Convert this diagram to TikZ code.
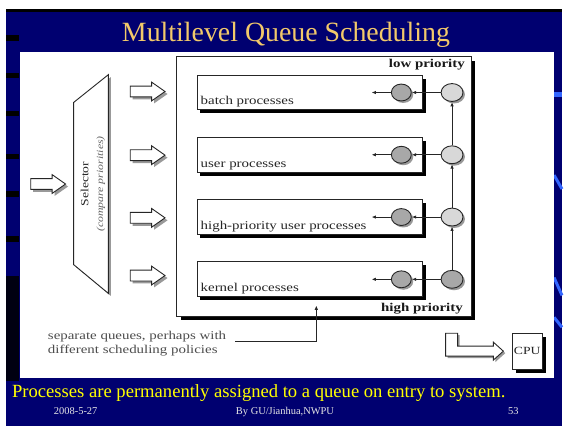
\documentclass[tikz,border=0pt]{standalone}
\usepackage{fontspec}
\setmainfont{Liberation Serif}
\newfontfamily\diagfont[FakeStretch=1.25]{Liberation Serif}
\usepackage{tikz}
\usetikzlibrary{arrows.meta,positioning,shapes.geometric,shapes.arrows}
\definecolor{slidenavy}{HTML}{000070}
\definecolor{slidestripe}{HTML}{3366FF}
\definecolor{titlegold}{HTML}{F2C96A}
\definecolor{footyellow}{HTML}{FFFF00}
\definecolor{inkgray}{HTML}{262626}
\definecolor{dotdark}{HTML}{A8A8A8}
\definecolor{dotlight}{HTML}{D8D8D8}

\begin{document}
\begin{tikzpicture}[
    x=1pt, y=-1pt,
    >={Latex[length=4.5pt,width=3.5pt]},
    every node/.style={font=\diagfont\fontsize{12}{14.3}\selectfont, text=inkgray, inner sep=0pt},
    flow/.style={draw=inkgray, line width=0.9pt},
    hardshadow/.style={preaction={fill=black, transform canvas={xshift=#1, yshift=-#1}}},
    softshadow/.style={preaction={fill=black!40, transform canvas={xshift=#1, yshift=-#1}}},
    pool/.style={
        rectangle,
        draw=inkgray,
        line width=0.9pt,
        fill=white,
        hardshadow=4pt
    },
    queue/.style={
        rectangle,
        draw=inkgray,
        line width=0.9pt,
        fill=white,
        minimum width=227pt,
        minimum height=35pt,
        hardshadow=3.5pt
    },
    headdot/.style={
        ellipse,
        draw=inkgray,
        line width=0.9pt,
        fill=dotdark,
        minimum width=20pt,
        minimum height=17pt,
        softshadow=2pt
    },
    taildot/.style={headdot, fill=dotlight, minimum width=22pt, minimum height=18pt},
    blockarrow/.style={
        single arrow,
        draw=inkgray,
        line width=0.9pt,
        fill=white,
        inner xsep=0pt,
        inner ysep=5pt,
        minimum height=35pt,
        single arrow head extend=4pt,
        single arrow tip angle=70,
        softshadow=2.5pt
    },
    prio/.style={font=\diagfont\bfseries\fontsize{12}{14}\selectfont, text=black!90}
]
    % === SLIDE BACKGROUND ===
    \fill[white] (0,0) rectangle (565,428);
    \fill[slidenavy] (6,9) rectangle (565,428);
    \fill[black] (6,9) rectangle (565,12.5);
    \fill[black] (6,35) rectangle (19,41);
    \fill[black] (6,73) rectangle (19,78);
    \fill[black] (6,112) rectangle (19,117);
    \fill[black] (6,155) rectangle (19,160);
    \fill[black] (6,192) rectangle (19,198);
    \fill[black] (6,237) rectangle (19,243);
    \fill[black!85!slidenavy] (6,277) rectangle (19,383);
    \draw[slidestripe, line width=6pt] (557,95) -- (565,95);
    \draw[slidestripe, line width=3pt] (557,176) -- (565,190);
    \draw[slidestripe, line width=3pt] (557,279) -- (565,297);
    \draw[slidestripe, line width=3pt] (557,319) -- (565,329);

    % Title
    \node[anchor=base, font=\rmfamily\fontsize{28}{32}\selectfont, text=titlegold] (title) at (287.5,41.7) {Multilevel Queue Scheduling};

    % White panel
    \fill[white] (20,52) rectangle (557,380);

    % === SELECTOR ===
    \node[blockarrow] (inarrow) at (44.5,185) {};
    \draw[flow, fill=white, softshadow=2.5pt]
        (109,75) -- (74,103) -- (74,266) -- (109,295) -- cycle;
    \node[rotate=90, font=\diagfont\fontsize{11}{12}\selectfont] (seltxt) at (85,185) {Selector};
    \node[rotate=90, font=\diagfont\itshape\fontsize{9.5}{11}\selectfont, text=black!60] (selsub) at (101.5,185) {(compare priorities)};

    % Arrows into the queues
    \node[blockarrow] (toqa) at (144.5,92) {};
    \node[blockarrow] (toqb) at (144.5,156) {};
    \node[blockarrow] (toqc) at (144.5,219) {};
    \node[blockarrow] (toqd) at (144.5,277) {};

    % === QUEUES ===
    \node[pool, minimum width=296.5pt, minimum height=261pt] (pool) at (325.75,187.5) {};
    \node[prio, anchor=base east] (lowp) at ([shift={(-7pt,-11pt)}]pool.north east) {low priority};
    \node[prio, anchor=base east] (highp) at ([shift={(-9pt,5pt)}]pool.south east) {high priority};

    \node[queue] (batch) at (311.5,93) {};
    \node[queue, below=26.7pt of batch] (user) {};
    \node[queue, below=26.7pt of user] (hipri) {};
    \node[queue, below=26.7pt of hipri] (kernel) {};

    \node[anchor=base west] (batchtxt) at ([shift={(4pt,5.5pt)}]batch.south west) {batch processes};
    \node[anchor=base west] (usertxt) at ([shift={(4pt,5.5pt)}]user.south west) {user processes};
    \node[anchor=base west] (hipritxt) at ([shift={(4pt,5.5pt)}]hipri.south west) {high-priority user processes};
    \node[anchor=base west] (kerneltxt) at ([shift={(4pt,5.5pt)}]kernel.south west) {kernel processes};

    % Queue heads and dispatch points
    \node[headdot] (bhead) at ([xshift=-22pt]batch.east) {};
    \node[headdot] (uhead) at ([xshift=-22pt]user.east) {};
    \node[headdot] (hhead) at ([xshift=-22pt]hipri.east) {};
    \node[headdot] (khead) at ([xshift=-22pt]kernel.east) {};
    \node[taildot] (btail) at ([xshift=29pt]batch.east) {};
    \node[taildot] (utail) at ([xshift=29pt]user.east) {};
    \node[taildot] (htail) at ([xshift=29pt]hipri.east) {};
    \node[taildot, fill=dotdark] (ktail) at ([xshift=29pt]kernel.east) {};

    \coordinate (bout) at ([xshift=-30pt]bhead.center);
    \coordinate (uout) at ([xshift=-30pt]uhead.center);
    \coordinate (hout) at ([xshift=-30pt]hhead.center);
    \coordinate (kout) at ([xshift=-30pt]khead.center);

    \draw[->, flow] (bhead) -- (bout);
    \draw[->, flow] (uhead) -- (uout);
    \draw[->, flow] (hhead) -- (hout);
    \draw[->, flow] (khead) -- (kout);
    \draw[->, flow] (btail) -- (bhead);
    \draw[->, flow] (utail) -- (uhead);
    \draw[->, flow] (htail) -- (hhead);
    \draw[->, flow] (ktail) -- (khead);
    \draw[->, flow] (ktail) -- (htail);
    \draw[->, flow] (htail) -- (utail);
    \draw[->, flow] (utail) -- (btail);

    % Annotation
    \node[anchor=north west, align=left, text=black!70] (note) at (48,332.5) {separate queues, perhaps with\\different scheduling policies};
    \coordinate (qmark) at (318,307);
    \draw[->, flow] ([shift={(9pt,2pt)}]note.east) -| (qmark);

    % === CPU ===
    \draw[flow, fill=white, softshadow=2pt]
        (448,335) -- (460,335) -- (460,348) -- (496,348) -- (496,344) -- (506,353)
        -- (496,362) -- (496,358) -- (448,358) -- cycle;
    \node[rectangle, draw=inkgray, line width=0.9pt, fill=white, minimum width=30pt, minimum height=36pt,
        font=\diagfont\fontsize{11}{12}\selectfont, hardshadow=4pt] (cpu) at (530,353) {CPU};

    % === FOOTER ===
    \node[anchor=base west, font=\rmfamily\fontsize{18.7}{22}\selectfont, text=footyellow] (summary) at (12,400) {Processes are permanently assigned to a queue on entry to system.};
    \node[anchor=base west, font=\rmfamily\fontsize{10.5}{12}\selectfont, text=white!90!black] (date) at (54,417) {2008-5-27};
    \node[anchor=base, font=\rmfamily\fontsize{10.5}{12}\selectfont, text=white!90!black] (author) at (286.5,417) {By GU/Jianhua,NWPU};
    \node[anchor=base, font=\rmfamily\fontsize{10.5}{12}\selectfont, text=white!90!black] (page) at (516,417) {53};
\end{tikzpicture}
\end{document}
